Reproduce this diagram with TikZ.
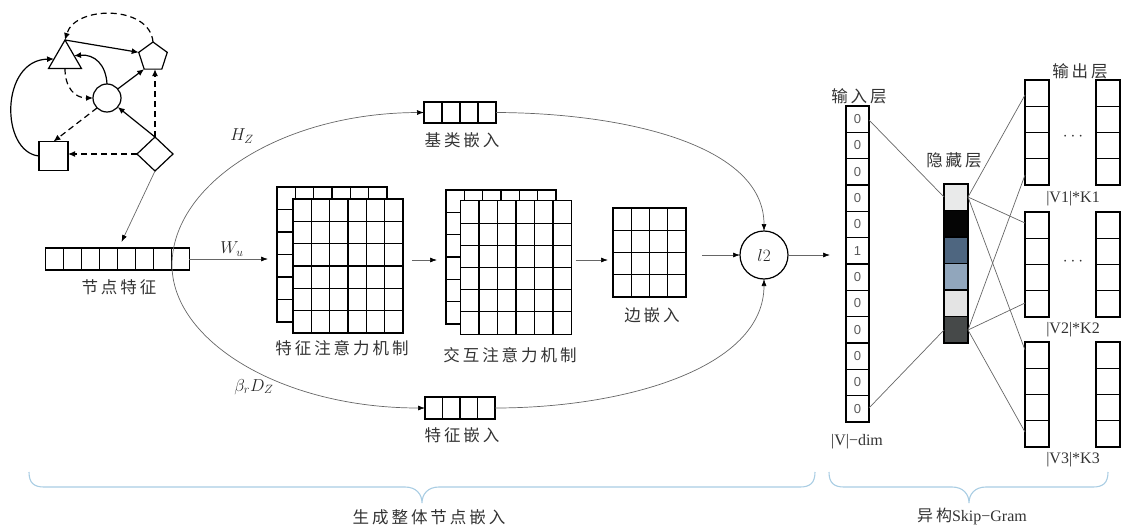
\documentclass[tikz,border=0pt]{standalone}
\usepackage{fontspec}
\setmainfont{Liberation Serif}
\newfontfamily\cjk[LetterSpace=18]{Noto Sans CJK SC}
\newfontfamily\digitfont{Liberation Sans}
\usetikzlibrary{shapes.geometric,arrows.meta,calc}
\definecolor{brc}{HTML}{A9CDE3}
\definecolor{hcA}{HTML}{E9EAEA}
\definecolor{hcB}{HTML}{050505}
\definecolor{hcC}{HTML}{4E6680}
\definecolor{hcD}{HTML}{91A6BC}
\definecolor{hcE}{HTML}{E4E4E4}
\definecolor{hcF}{HTML}{464949}
\tikzset{
  gbox/.style={draw=black,line width=1.1pt,inner sep=0pt,outer sep=0pt},
  gline/.style={line width=1.1pt},
  conn/.style={draw=black!60,line width=0.7pt,-{Latex[length=7pt,width=5pt,color=black]}},
  thinline/.style={draw=black!60,line width=0.7pt},
  gedge/.style={line width=1.2pt,-{Latex[length=7pt,width=6pt]}},
  gdash/.style={gedge,dash pattern=on 6pt off 4pt},
  gshape/.style={draw,line width=1.2pt,inner sep=0pt,outer sep=0pt,fill=white},
  cn/.style={font=\cjk\fontsize{16.5}{19}\selectfont,text=black!80,inner sep=0pt},
  lat/.style={font=\fontsize{16}{18}\selectfont,text=black!80,inner sep=0pt},
  mth/.style={font=\fontsize{17}{20}\selectfont,text=black!85,inner sep=0pt},
  digit/.style={font=\digitfont\fontsize{13}{15}\selectfont,text=black!65,inner sep=0pt},
}
% #1 name, #2 centre, #3 cols, #4 rows, #5 cell width, #6 cell height, #7 extra style
\newcommand\gridbox[7]{%
  \node[gbox,minimum width={#3*#5pt},minimum height={#4*#6pt},#7] (#1) at (#2) {};
  \foreach \i in {1,...,#3}{\draw[gline] ($(#1.north west)+(\i*#5,0)$) -- ($(#1.south west)+(\i*#5,0)$);}
  \foreach \j in {1,...,#4}{\draw[gline] ($(#1.north west)+(0,\j*#6)$) -- ($(#1.north east)+(0,\j*#6)$);}
}
\begin{document}
\begin{tikzpicture}[x=1pt,y=-1pt]
\useasboundingbox (0,0) rectangle (1122,530);

% ---------- small heterogeneous graph ----------
\node[gshape,regular polygon,regular polygon sides=3,minimum size=38pt] (tri) at (65,59) {};
\node[gshape,regular polygon,regular polygon sides=5,minimum size=30pt] (pent) at (153,57) {};
\node[gshape,circle,minimum size=28pt] (circ) at (107,98) {};
\node[gshape,rectangle,minimum size=29pt] (sq) at (53.5,156) {};
\node[gshape,diamond,minimum width=36pt,minimum height=34pt] (dia) at (155,154) {};

\draw[gdash] (pent.corner 1) .. controls (150,5) and (75,5) .. (tri.corner 1);
\draw[gedge] (tri.corner 1) -- (pent.corner 2);
\draw[gedge] (sq.west) .. controls (0,152) and (0,60) .. (tri.180);
\draw[gedge] (circ.north) .. controls (106,65) and (95,54) .. (tri.20);
\draw[gdash] (tri.270) .. controls (65,88) and (75,98) .. (circ.west);
\draw[gedge] (circ.40) -- (pent.corner 3);
\draw[gdash] (circ.225) -- (sq.north);
\draw[gedge] (dia.north) -- (circ.-40);
\draw[gdash] (dia.north) -- (dia.north |- pent.side 3);
\draw[gdash] (dia.west) -- (dia.west -| sq.east);

% ---------- node features ----------
\gridbox{feat}{117.5,259}{8}{1}{17.9}{22}{}
\node[cn] (featlab) at (119,287) {节点特征};
\draw[conn] (dia.south) -- ([xshift=4pt,yshift=6pt]feat.north);

% ---------- embeddings ----------
\gridbox{top}{460,112.5}{4}{1}{18}{21}{}
\node[cn] (toplab) at (462,140) {基类嵌入};
\gridbox{bot}{460,408}{4}{1}{17.5}{22}{}
\node[cn] (botlab) at (462,435) {特征嵌入};

% ---------- attention matrices ----------
\gridbox{m1b}{332,254.5}{6}{6}{18.33}{22.5}{}
\gridbox{m1f}{348,266}{6}{6}{18.33}{22.33}{fill=white}
\node[cn] (m1lab) at (342,348) {特征注意力机制};
\gridbox{m2b}{501,257}{6}{6}{18.33}{22.33}{}
\gridbox{m2f}{516,267.5}{6}{6}{18.5}{22.2}{fill=white}
\node[cn] (m2lab) at (510,355) {交互注意力机制};
\gridbox{edge}{649.5,252.5}{4}{4}{18.25}{22.25}{}
\node[cn] (edgelab) at (652,315) {边嵌入};

\node[gshape,circle,minimum size=48pt,fill=none] (l2) at (764,255) {};
\node[font=\fontsize{19}{21}\selectfont,text=black!85,inner sep=0pt] (l2lab) at (l2) {$l2$};

% ---------- big ellipse ----------
\coordinate (lft) at (172,265);
\draw[conn] (lft) .. controls (172,185) and (280,113) .. (top.west);
\draw[conn] (lft) .. controls (172,340) and (280,408) .. (bot.west);
\draw[conn] (top.east) .. controls (625,113) and (764,145) .. (l2.north);
\draw[conn] (bot.east) .. controls (625,408) and (764,368) .. (l2.south);
\node[mth] (hz) at (242,136) {$H_Z$};
\node[mth] (wu) at (232,249) {$W_u$};
\node[mth] (bd) at (254,387) {$\beta_r D_Z$};

% ---------- main-row arrows ----------
\coordinate (ar) at (0,260);
\draw[conn,shorten >=9pt] (feat.east) -- (feat.east -| m1b.west);
\draw[conn,shorten <=9pt,shorten >=9pt] (m1f.east |- ar) -- (m2b.west |- ar);
\draw[conn,shorten <=4pt,shorten >=5pt] (m2f.east |- ar) -- (edge.west |- ar);
\draw[conn,shorten <=16pt] (edge.east |- l2) -- (l2.west);

% ---------- skip-gram ----------
\gridbox{in}{857.5,264}{1}{12}{23}{26.33}{}
\foreach \v [count=\k] in {0,0,0,0,0,1,0,0,0,0,0,0}
  \node[digit] (d\k) at ($(in.north)+(0,{(\k-0.5)*26.33})$) {\v};
\node[cn] (inlab) at (859,96) {输入层};
\node[lat] (vdim) at (857,442) {|V|−dim};
\draw[conn,shorten >=16pt] (l2.east) -- (l2.east -| in.west);

\foreach \c [count=\k from 0] in {hcA,hcB,hcC,hcD,hcE,hcF}
  \fill[\c] (944,{184+\k*26.5}) rectangle +(24,26.5);
\gridbox{hid}{956,263.5}{1}{6}{24}{26.5}{}
\node[cn] (hidlab) at (954,160) {隐藏层};

\gridbox{o1l}{1037,132.5}{1}{4}{24}{26.25}{}
\gridbox{o1r}{1108,132.5}{1}{4}{24}{26.25}{}
\gridbox{o2l}{1037,264.5}{1}{4}{24}{26.25}{}
\gridbox{o2r}{1108,264.5}{1}{4}{24}{26.25}{}
\gridbox{o3l}{1037,394.5}{1}{4}{24}{26.25}{}
\gridbox{o3r}{1108,394.5}{1}{4}{24}{26.25}{}
\node[cn] (outlab) at (1080,71) {输出层};
\node[lat] (k1) at (1073,199) {|V1|*K1};
\node[lat] (k2) at (1073,330) {|V2|*K2};
\node[lat] (k3) at (1073,460) {|V3|*K3};
\node[lat] (dots1) at (1073,137) {$\cdots$};
\node[lat] (dots2) at (1073,262) {$\cdots$};

\draw[thinline] ($(in.north east)+(0,14)$) -- ($(hid.north west)+(0,13)$);
\draw[thinline] ($(in.south east)+(0,-14)$) -- ($(hid.south west)+(0,-13)$);
\draw[thinline] ($(hid.north east)+(0,13)$) -- ($(o1l.north west)+(0,15)$);
\draw[thinline] ($(hid.north east)+(0,13)$) -- ($(o2l.north west)+(0,11)$);
\draw[thinline] ($(hid.north east)+(0,13)$) -- ($(o3l.north west)+(0,8)$);
\draw[thinline] ($(hid.south east)+(0,-13)$) -- ($(o1l.south west)+(0,-10)$);
\draw[thinline] ($(hid.south east)+(0,-13)$) -- ($(o2l.south west)+(0,-14)$);
\draw[thinline] ($(hid.south east)+(0,-13)$) -- ($(o3l.south west)+(0,-15)$);

% ---------- braces ----------
\draw[brc,line width=1.1pt] (29,472) .. controls (29,483) and (34,487) .. (44,487) -- (405,487)
  .. controls (416,487) and (422,494) .. (422,503) .. controls (422,494) and (428,487) .. (439,487)
  -- (800,487) .. controls (810,487) and (815,483) .. (815,472);
\draw[brc,line width=1.1pt] (829,472) .. controls (829,483) and (834,487) .. (844,487) -- (952,487)
  .. controls (963,487) and (969,494) .. (969,503) .. controls (969,494) and (975,487) .. (986,487)
  -- (1093,487) .. controls (1103,487) and (1108,483) .. (1108,472);
\node[cn] (brlab1) at (429,517) {生成整体节点嵌入};
\node[lat,font=\fontsize{16}{18}\selectfont] (brlab2) at (972,516) {{\cjk 异构}Skip−Gram};
\end{tikzpicture}
\end{document}
